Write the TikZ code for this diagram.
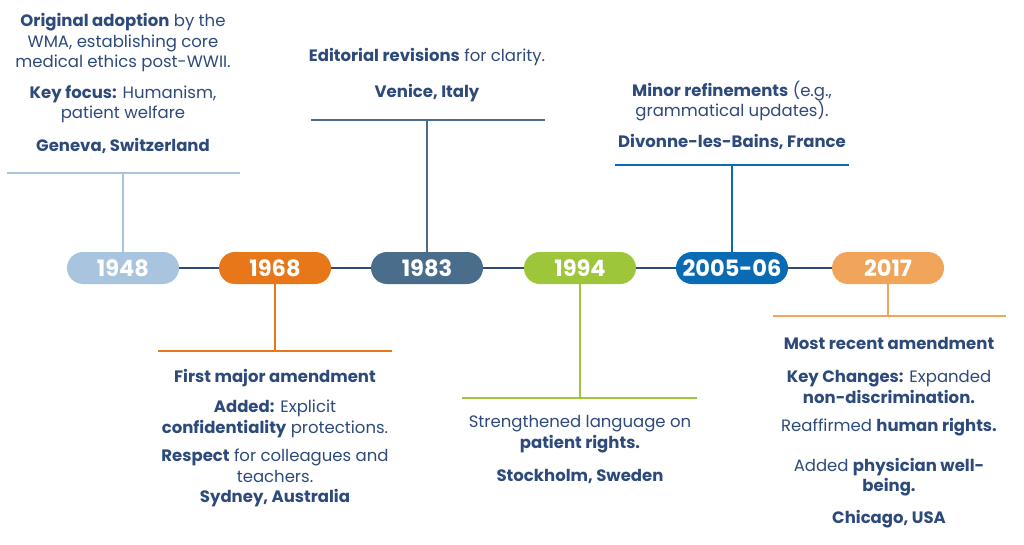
\documentclass[tikz,border=0pt]{standalone}
\usepackage{fontspec}
\setmainfont{Poppins}
\definecolor{navy}{HTML}{2D4A7A}
\definecolor{cA}{HTML}{A9C4DE}
\definecolor{cB}{HTML}{E8771A}
\definecolor{cC}{HTML}{4A6D8C}
\definecolor{cD}{HTML}{9DC63B}
\definecolor{cE}{HTML}{0A6BB5}
\definecolor{cF}{HTML}{F0A55A}
\begin{document}
\begin{tikzpicture}[x=1pt,y=-1pt,
 pill/.style={rounded corners=16pt,minimum width=112pt,minimum height=32pt,text=white,font=\fontsize{22.5}{24}\selectfont\bfseries,inner sep=0pt},
 txt/.style={text=navy,font=\fontsize{16.5}{20.5}\selectfont,align=center,inner sep=0pt},
 ln/.style={line width=1.5pt}]
\useasboundingbox (0,0) rectangle (1024,545);
\draw[ln,navy] (123,268) -- (888,268);
\node[pill,fill=cA] (p1) at (123,268) {1948};
\node[pill,fill=cB] (p2) at (275,268) {1968};
\node[pill,fill=cC] (p3) at (427,268) {1983};
\node[pill,fill=cD] (p4) at (580,268) {1994};
\node[pill,fill=cE] (p5) at (732,268) {2005-06};
\node[pill,fill=cF] (p6) at (888,268) {2017};
\coordinate (a1) at (123,173); \draw[ln,cA] (p1) -- (a1); \draw[ln,cA] (7,173) -- (240,173);
\coordinate (a2) at (275,351); \draw[ln,cB] (p2) -- (a2); \draw[ln,cB] (158,351) -- (392,351);
\coordinate (a3) at (427,120); \draw[ln,cC] (p3) -- (a3); \draw[ln,cC] (311,120) -- (545,120);
\coordinate (a4) at (580,398); \draw[ln,cD] (p4) -- (a4); \draw[ln,cD] (462,398) -- (697,398);
\coordinate (a5) at (732,165); \draw[ln,cE] (p5) -- (a5); \draw[ln,cE] (615,165) -- (849,165);
\coordinate (a6) at (888,316); \draw[ln,cF] (p6) -- (a6); \draw[ln,cF] (773,316) -- (1006,316);
% 1948
\node[txt] (t1a) at (123,43) {\textbf{Original adoption} by the\\WMA, establishing core\\medical ethics post-WWII.};
\node[txt] (t1b) at (123,104) {\textbf{Key focus:} Humanism,\\patient welfare};
\node[txt] (t1c) at (123,146) {\textbf{Geneva, Switzerland}};
% 1968
\node[txt] (t2a) at (275,378) {\textbf{First major amendment}};
\node[txt] (t2b) at (275,419) {\textbf{Added:} Explicit\\\textbf{confidentiality} protections.};
\node[txt] (t2c) at (275,466) {\textbf{Respect} for colleagues and\\teachers.};
\node[txt] (t2d) at (275,498) {\textbf{Sydney, Australia}};
% 1983
\node[txt] (t3a) at (427,57) {\textbf{Editorial revisions} for clarity.};
\node[txt] (t3b) at (427,93) {\textbf{Venice, Italy}};
% 1994
\node[txt] (t4a) at (580,434) {Strengthened language on\\\textbf{patient rights.}};
\node[txt] (t4b) at (580,476) {\textbf{Stockholm, Sweden}};
% 2005
\node[txt] (t5a) at (732,101) {\textbf{Minor refinements} (e.g.,\\grammatical updates).};
\node[txt] (t5b) at (732,142) {\textbf{Divonne-les-Bains, France}};
% 2017
\node[txt] (t6a) at (889,343) {\textbf{Most recent amendment}};
\node[txt] (t6b) at (889,387) {\textbf{Key Changes:} Expanded\\\textbf{non-discrimination.}};
\node[txt] (t6c) at (889,427) {Reaffirmed \textbf{human rights.}};
\node[txt] (t6d) at (889,477) {Added \textbf{physician well-}\\\textbf{being.}};
\node[txt] (t6e) at (889,519) {\textbf{Chicago, USA}};
\end{tikzpicture}
\end{document}
